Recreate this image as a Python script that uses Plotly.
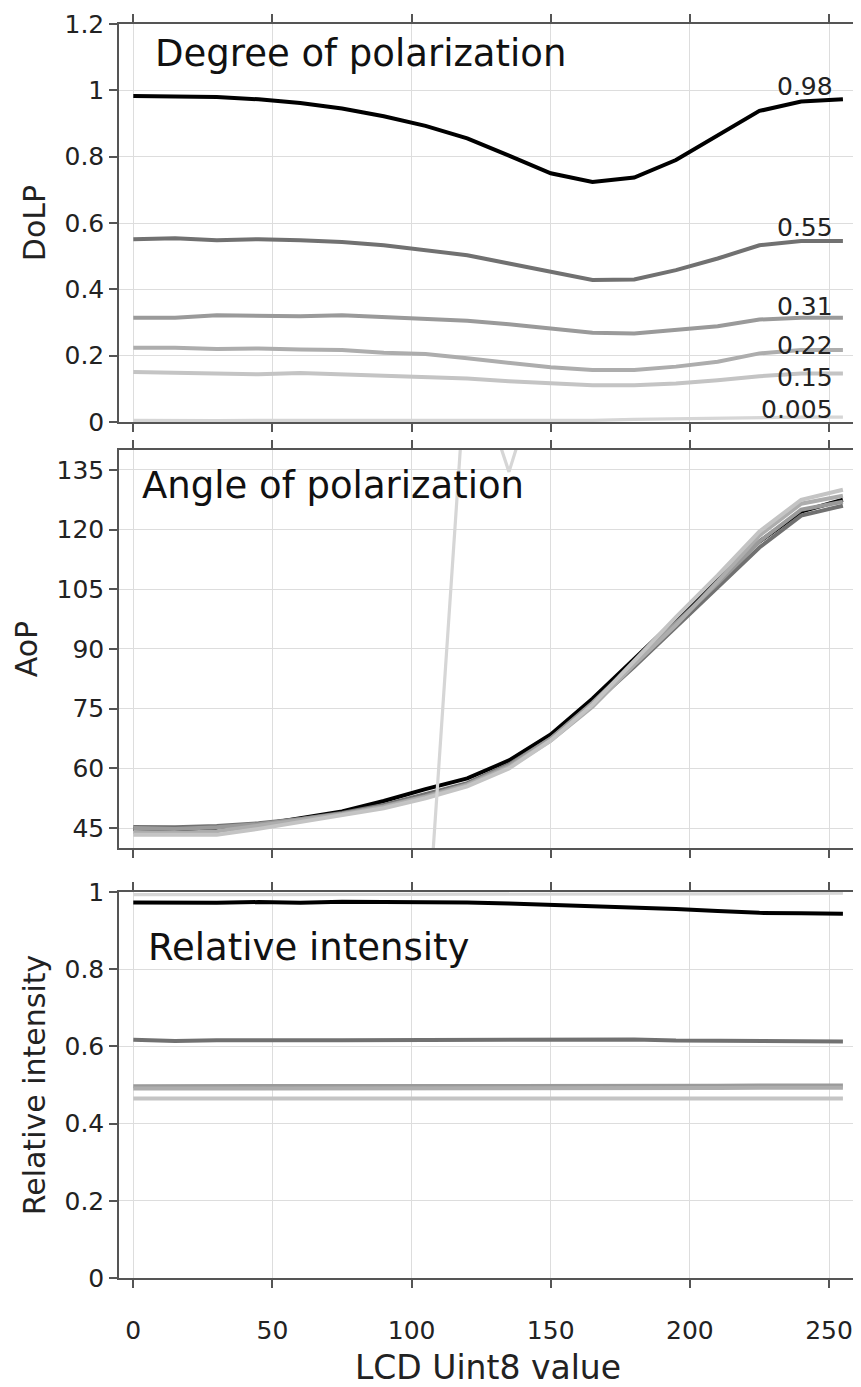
import plotly.graph_objects as go

# ---------------- data ----------------
lcd = [0, 15, 30, 45, 60, 75, 90, 105, 120, 135, 150, 165, 180, 195, 210, 225, 240, 255]

series_labels = ["0.98", "0.55", "0.31", "0.22", "0.15", "0.005"]
series_colors = ["#000000", "#717171", "#9a9a9a", "#adadad", "#c4c4c4", "#d6d6d6"]

# Degree of linear polarization
dolp_098 = [0.983, 0.983, 0.980, 0.973, 0.962, 0.945, 0.922, 0.893, 0.855, 0.803, 0.750, 0.724, 0.737, 0.790, 0.865, 0.938, 0.966, 0.973]
dolp_055 = [0.551, 0.554, 0.548, 0.551, 0.548, 0.543, 0.533, 0.518, 0.503, 0.478, 0.453, 0.428, 0.430, 0.458, 0.493, 0.533, 0.546, 0.546]
dolp_031 = [0.314, 0.314, 0.322, 0.319, 0.319, 0.322, 0.317, 0.312, 0.305, 0.295, 0.282, 0.269, 0.267, 0.277, 0.289, 0.309, 0.314, 0.314]
dolp_022 = [0.224, 0.224, 0.220, 0.222, 0.219, 0.217, 0.209, 0.205, 0.192, 0.177, 0.165, 0.157, 0.157, 0.167, 0.182, 0.207, 0.217, 0.217]
dolp_015 = [0.151, 0.148, 0.144, 0.144, 0.148, 0.144, 0.138, 0.136, 0.131, 0.123, 0.116, 0.111, 0.111, 0.116, 0.126, 0.138, 0.146, 0.146]
dolp_0005 = [0.005, 0.004, 0.004, 0.005, 0.005, 0.004, 0.004, 0.005, 0.004, 0.004, 0.004, 0.005, 0.008, 0.010, 0.012, 0.014, 0.015, 0.015]

# Angle of polarization (degrees)
aop_098 = [44.8, 44.5, 44.8, 45.8, 47.5, 49.2, 51.8, 54.8, 57.5, 62.0, 68.5, 77.5, 87.5, 97.5, 107.5, 117.0, 124.5, 127.5]
aop_055 = [45.3, 45.2, 45.5, 46.2, 47.3, 48.8, 50.8, 53.5, 56.3, 61.0, 67.5, 76.0, 85.5, 95.5, 105.5, 115.5, 123.5, 126.0]
aop_031 = [45.0, 44.8, 45.2, 46.0, 47.2, 48.6, 50.5, 53.0, 56.0, 60.7, 67.5, 76.5, 86.5, 96.5, 106.5, 117.0, 125.0, 127.0]
aop_022 = [44.0, 43.8, 44.2, 45.5, 47.0, 48.5, 50.3, 52.8, 55.8, 60.3, 67.0, 75.5, 86.0, 96.0, 107.0, 118.5, 126.5, 128.5]
aop_015 = [43.3, 43.2, 43.3, 44.8, 46.5, 48.2, 50.0, 52.5, 55.5, 60.0, 67.0, 76.0, 87.0, 98.0, 108.5, 119.5, 127.5, 130.0]
aop_0005 = [10.0, 20.0, 15.0, 12.0, 18.0, 25.0, 8.0, 11.0, 166.0, 134.5, 168.0, 170.0, 172.0, 175.0, 172.0, 170.0, 175.0, 178.0]

# Relative intensity
ri_098 = [0.973, 0.972, 0.972, 0.974, 0.972, 0.975, 0.974, 0.975, 0.973, 0.970, 0.967, 0.962, 0.959, 0.956, 0.951, 0.946, 0.945, 0.944]
ri_055 = [0.617, 0.614, 0.616, 0.617, 0.616, 0.616, 0.616, 0.616, 0.616, 0.617, 0.617, 0.616, 0.618, 0.615, 0.615, 0.615, 0.614, 0.613]
ri_031 = [0.497, 0.497, 0.497, 0.497, 0.497, 0.497, 0.497, 0.497, 0.497, 0.497, 0.496, 0.497, 0.498, 0.498, 0.498, 0.499, 0.499, 0.499]
ri_022 = [0.491, 0.491, 0.491, 0.491, 0.491, 0.491, 0.491, 0.491, 0.491, 0.491, 0.490, 0.491, 0.492, 0.492, 0.492, 0.493, 0.493, 0.493]
ri_015 = [0.465, 0.465, 0.465, 0.465, 0.465, 0.465, 0.465, 0.465, 0.465, 0.465, 0.465, 0.465, 0.467, 0.465, 0.466, 0.466, 0.466, 0.465]
ri_0005 = [0.993, 0.993, 0.994, 0.994, 0.994, 0.994, 0.994, 0.995, 0.995, 0.995, 0.995, 0.995, 0.995, 0.995, 0.995, 0.996, 0.997, 0.997]

x_ticks = [0, 50, 100, 150, 200, 250]

dolp = [dolp_098, dolp_055, dolp_031, dolp_022, dolp_015, dolp_0005]
aop = [aop_098, aop_055, aop_031, aop_022, aop_015, aop_0005]
ri = [ri_098, ri_055, ri_031, ri_022, ri_015, ri_0005]

# ---------------- figure ----------------
FONT = "DejaVu Sans, Verdana, sans-serif"
fig = go.Figure()

for i in range(6):
    w = 4.0 if i < 5 else 3.2
    fig.add_trace(go.Scatter(x=lcd, y=dolp[i], mode="lines", line=dict(color=series_colors[i], width=w),
                             xaxis="x", yaxis="y", showlegend=False))
    fig.add_trace(go.Scatter(x=lcd, y=aop[i], mode="lines", line=dict(color=series_colors[i], width=w),
                             xaxis="x2", yaxis="y2", showlegend=False))
    fig.add_trace(go.Scatter(x=lcd, y=ri[i], mode="lines", line=dict(color=series_colors[i], width=w),
                             xaxis="x3", yaxis="y3", showlegend=False))

axis_common = dict(showline=True, linecolor="#555555", linewidth=1.5, mirror="ticks",
                   ticks="outside", ticklen=8, tickwidth=1.5, tickcolor="#555555",
                   showgrid=True, gridcolor="#dddddd", gridwidth=1, zeroline=False,
                   automargin=False,
                   tickfont=dict(family=FONT, size=25, color="#222222"))

xr = [-5.14, 260.06]
title_font = dict(family=FONT, size=30, color="#222222")
fig.update_layout(
    width=853, height=1379,
    margin=dict(l=111, r=4, t=16, b=109),
    paper_bgcolor="white", plot_bgcolor="white",
    font=dict(family=FONT, color="#222222"),
    xaxis=dict(domain=[0, 1], anchor="y", range=xr, tickvals=x_ticks, showticklabels=False, **axis_common),
    xaxis2=dict(domain=[0, 1], anchor="y2", range=xr, tickvals=x_ticks, showticklabels=False, **axis_common),
    xaxis3=dict(domain=[0, 1], anchor="y3", range=xr, tickvals=x_ticks, showticklabels=True,
                ticklabelstandoff=21,
                title=dict(text="LCD Uint8 value", font=dict(family=FONT, size=33, color="#222222"), standoff=32),
                **axis_common),
    yaxis=dict(domain=[0.6826, 1.0], anchor="x", range=[0, 1.2], tickvals=[0, 0.2, 0.4, 0.6, 0.8, 1.0, 1.2],
               title=dict(text="DoLP", font=title_font, standoff=10),
               **axis_common),
    yaxis2=dict(domain=[0.3429, 0.6603], anchor="x2", range=[40, 140], tickvals=[45, 60, 75, 90, 105, 120, 135],
                title=dict(text="AoP", font=title_font, standoff=10),
                **axis_common),
    yaxis3=dict(domain=[0, 0.3078], anchor="x3", range=[0, 1.0], tickvals=[0, 0.2, 0.4, 0.6, 0.8, 1.0],
                title=dict(text="Relative intensity", font=title_font, standoff=10),
                **axis_common),
)

# Panel titles
fig.add_annotation(x=7.0, y=1.11, xref="x", yref="y", text="Degree of polarization", showarrow=False,
                   xanchor="left", yanchor="middle", font=dict(family=FONT, size=37, color="#111111"))
fig.add_annotation(x=2.5, y=131.0, xref="x2", yref="y2", text="Angle of polarization", showarrow=False,
                   xanchor="left", yanchor="middle", font=dict(family=FONT, size=37, color="#111111"))
fig.add_annotation(x=4.7, y=0.855, xref="x3", yref="y3", text="Relative intensity", showarrow=False,
                   xanchor="left", yanchor="middle", font=dict(family=FONT, size=37, color="#111111"))

# Series labels in DoLP panel
label_y = [1.013, 0.587, 0.349, 0.231, 0.134, 0.038]
for lab, ly in zip(series_labels, label_y):
    fig.add_annotation(x=252.0, y=ly, xref="x", yref="y", text=lab, showarrow=False,
                       xanchor="right", yanchor="middle", font=dict(family=FONT, size=25, color="#222222"))

fig.write_html("out.html")
